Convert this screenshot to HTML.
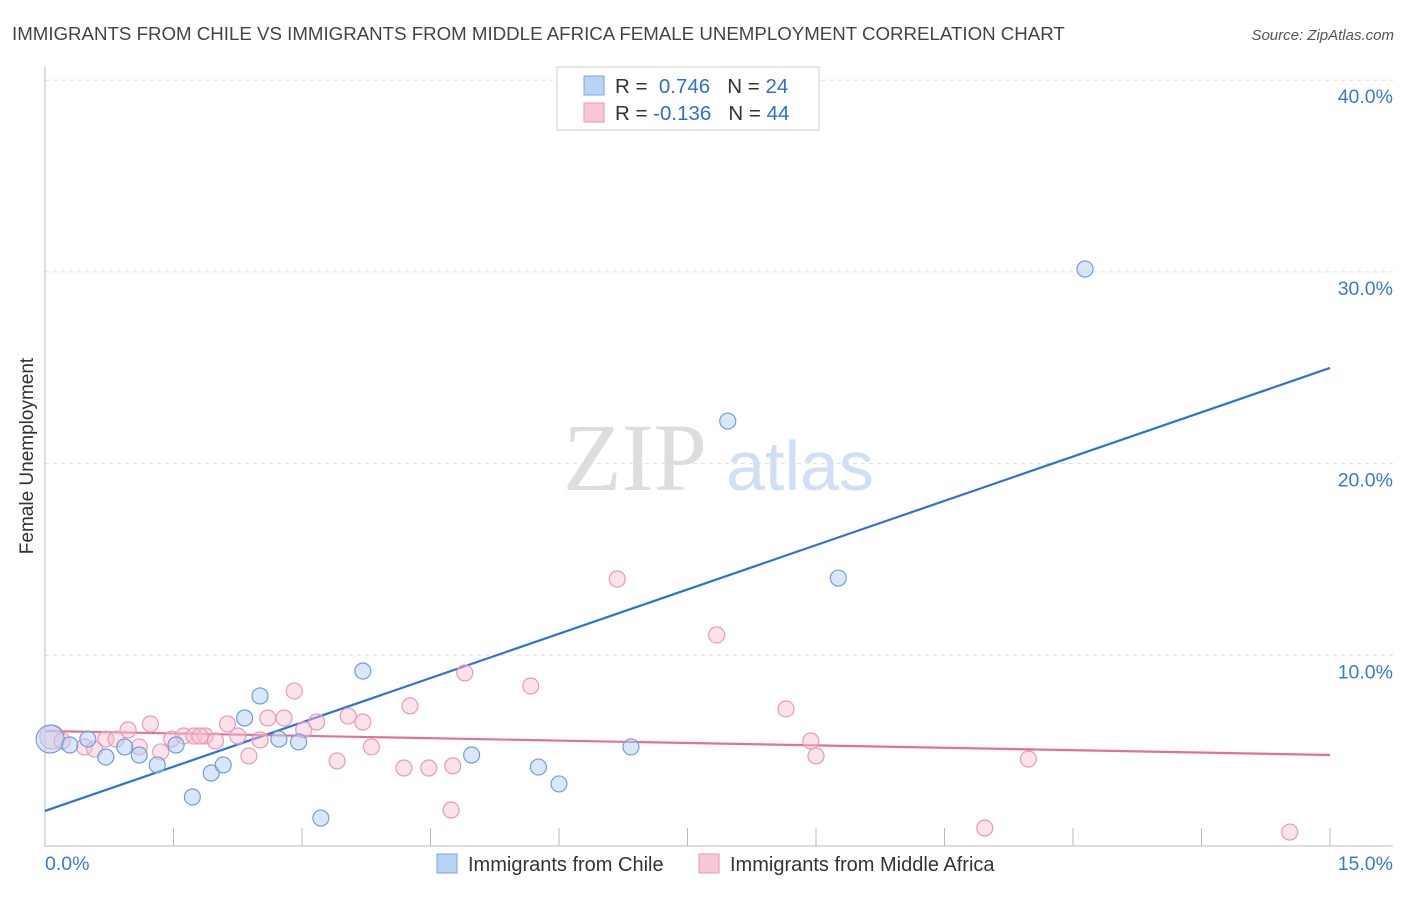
<!DOCTYPE html>
<html><head><meta charset="utf-8"><style>
body{margin:0;background:#fff;font-family:"Liberation Sans",sans-serif;}
</style></head><body>
<svg id="c" width="1406" height="892" xmlns="http://www.w3.org/2000/svg" font-family="Liberation Sans, sans-serif">
<text x="12" y="40" font-size="18.7" fill="#444">IMMIGRANTS FROM CHILE VS IMMIGRANTS FROM MIDDLE AFRICA FEMALE UNEMPLOYMENT CORRELATION CHART</text>
<text x="1394" y="40" font-size="15" fill="#555" font-style="italic" text-anchor="end">Source: ZipAtlas.com</text>
<text x="33" y="456" font-size="19" fill="#333" text-anchor="middle" transform="rotate(-90 33 456)">Female Unemployment</text>
<g><text x="635" y="490" font-size="96" fill="#ddd" font-family="Liberation Serif, serif" text-anchor="middle">ZIP</text><text x="800" y="490" font-size="70" fill="#cfe0f5" text-anchor="middle">atlas</text></g>
<g id="grid"></g><g id="axes"></g><g id="trend"></g><g id="pts"></g>
<g>
<rect x="557" y="67" width="262" height="63" fill="#fff" stroke="#ccc"/>
<rect x="584" y="76" width="20" height="19" fill="#b9d3f5" stroke="#7aa6e0"/>
<rect x="584" y="103" width="20" height="19" fill="#f9c8d7" stroke="#e89ab3"/>
<text x="615" y="93" font-size="20.5" fill="#333">R = <tspan fill="#2e6fd6">&#160;0.746</tspan>&#160;&#160;&#160;N = <tspan fill="#2e6fd6">24</tspan></text>
<text x="615" y="120" font-size="20.5" fill="#333">R = <tspan fill="#2e6fd6">-0.136</tspan>&#160;&#160;&#160;N = <tspan fill="#2e6fd6">44</tspan></text>
</g>
<g>
<rect x="437" y="854" width="20" height="19" fill="#b9d3f5" stroke="#7aa6e0"/>
<text x="468" y="871" font-size="20" fill="#333">Immigrants from Chile</text>
<rect x="699" y="854" width="20" height="19" fill="#f9c8d7" stroke="#e89ab3"/>
<text x="730" y="871" font-size="20" fill="#333">Immigrants from Middle Africa</text>
</g>
<text x="45" y="870" font-size="19.5" fill="#3a78d6">0.0%</text>
<text x="1393" y="870" font-size="19.5" fill="#3a78d6" text-anchor="end">15.0%</text>
</svg>
<script>
const yTicks=[10,20,30,40];
const yTickLabels=["10.0%","20.0%","30.0%","40.0%"];
const xTicks=[0,1.5,3,4.5,6,7.5,9,10.5,12,13.5,15];
const chileX=[0.06,0.29,0.5,0.71,0.93,1.1,1.31,1.53,1.72,1.94,2.08,2.33,2.51,2.73,2.96,3.22,3.71,4.98,5.76,6,6.84,7.97,9.26,12.14];
const chileY=[5.63,5.32,5.63,4.69,5.22,4.8,4.28,5.32,2.61,3.86,4.28,6.73,7.88,5.63,5.48,1.51,9.18,4.8,4.17,3.29,5.22,22.22,14.03,30.15];
const afrX=[0.08,0.2,0.46,0.58,0.71,0.83,0.97,1.1,1.23,1.35,1.48,1.62,1.74,1.87,1.99,2.13,2.25,2.38,2.51,2.6,2.79,2.91,3.02,3.17,3.41,3.54,3.71,3.81,4.19,4.26,4.48,4.76,4.74,4.9,5.67,6.68,7.84,8.65,8.94,9,10.97,11.48,14.53,1.81];
const afrY=[5.74,5.53,5.22,5.11,5.63,5.63,6.11,5.22,6.42,4.96,5.63,5.79,5.79,5.79,5.53,6.42,5.79,4.75,5.58,6.73,6.73,8.14,6.11,6.52,4.49,6.83,6.52,5.22,4.12,7.36,4.12,4.23,1.93,9.08,8.4,13.98,11.06,7.2,5.53,4.75,0.99,4.59,0.78,5.79];
const trendBlue=[1.88,24.99];
const trendPink=[6.05,4.8];
const NS="http://www.w3.org/2000/svg";
const X=v=>45+v*(1285/15), Y=v=>847-v*19.17;
function mk(t,a,p){const e=document.createElementNS(NS,t);for(const k in a)e.setAttribute(k,a[k]);document.getElementById(p).appendChild(e);return e;}
yTicks.forEach((t,i)=>{
 const l=mk('line',{x1:45,x2:1393,y1:Y(t),y2:Y(t),stroke:'#ddd','stroke-dasharray':'4,4'},'grid');
 
 
 const tx=mk('text',{x:1393,y:Y(t)+23,'font-size':19.5,fill:'#3a78d6','text-anchor':'end'},'grid');
 tx.textContent=yTickLabels[i];
 
 
});
const ya=mk('line',{x1:45,x2:45,y1:67,y2:847,stroke:'#bbb'},'axes');


const xa=mk('line',{x1:45,x2:1393,y1:846,y2:846,stroke:'#bbb'},'axes');


xTicks.forEach(t=>{const l=mk('line',{x1:X(t),x2:X(t),y1:828,y2:846,stroke:'#bbb'},'axes');
 
 });
const tb=mk('line',{x1:X(0),y1:Y(trendBlue[0]),x2:X(15),y2:Y(trendBlue[1]),stroke:'#2e72d8','stroke-width':2.2},'trend');


const tp=mk('line',{x1:X(0),y1:Y(trendPink[0]),x2:X(15),y2:Y(trendPink[1]),stroke:'#e4709a','stroke-width':2.2},'trend');


afrX.forEach((x,i)=>{const c=mk('circle',{cx:X(x),cy:Y(afrY[i]),r:i==0?12:8,fill:'rgba(249,190,210,0.45)',stroke:'#e99ab5','stroke-width':1.2},'pts');
 
 });
chileX.forEach((x,i)=>{const c=mk('circle',{cx:X(x),cy:Y(chileY[i]),r:i==0?14:8,fill:'rgba(180,208,245,0.5)',stroke:'#6f9edc','stroke-width':1.2},'pts');
 
 });
</script>
</body></html>
